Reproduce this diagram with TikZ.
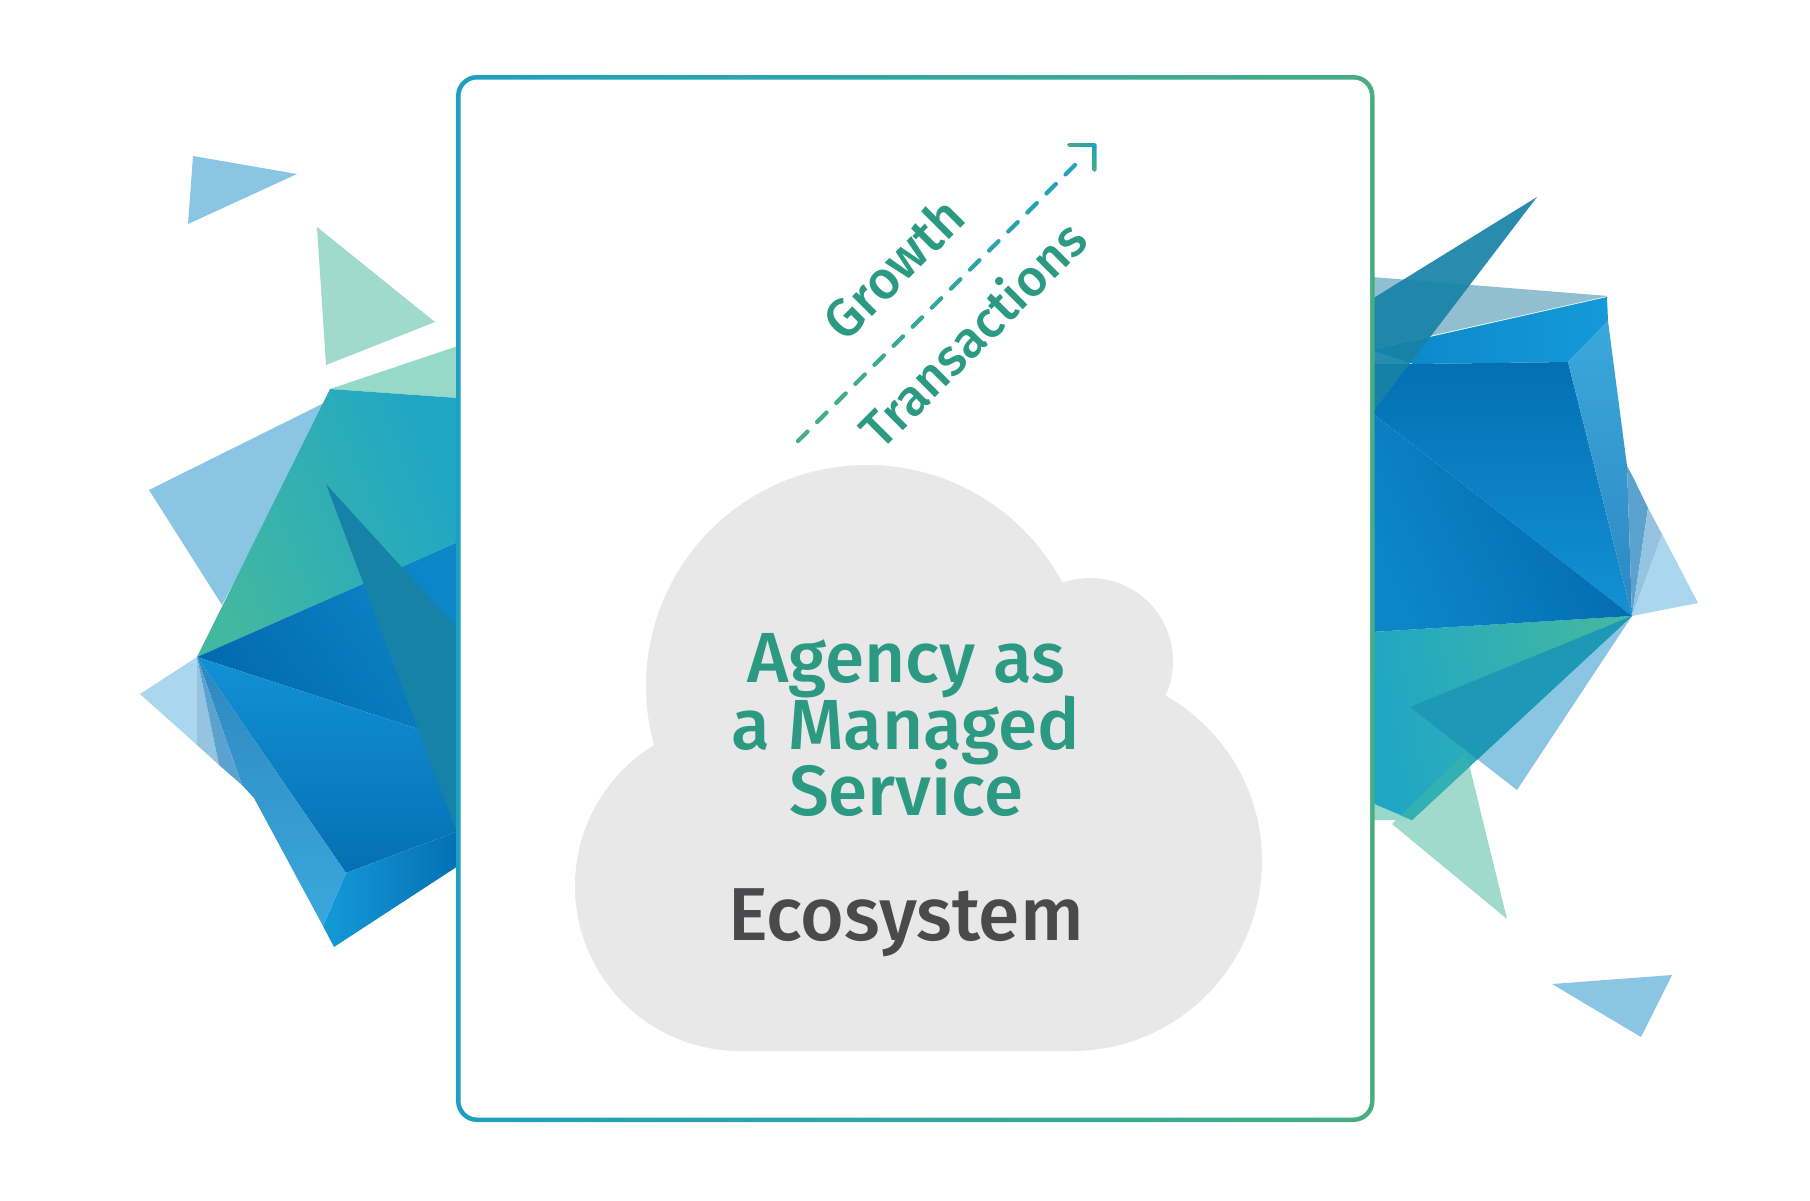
\documentclass[tikz,border=0pt]{standalone}
\usepackage{fontspec}
\setmainfont{Fira Sans Medium}
\usetikzlibrary{calc}
\definecolor{tealA}{HTML}{43B8A0}
\definecolor{tealB}{HTML}{1FA6C5}
\definecolor{frameA}{HTML}{1DA0C0}
\definecolor{frameB}{HTML}{47AD82}
\definecolor{txtgreen}{HTML}{2C9A82}
\definecolor{txtgrey}{HTML}{4A4A4C}
\definecolor{cloudgrey}{HTML}{E8E8E8}
\definecolor{paleblue}{HTML}{8AC6E3}
\definecolor{paleblueb}{HTML}{ABD7EE}
\definecolor{palegreen}{HTML}{A0DACD}
\definecolor{toplight}{HTML}{97D9C8}
\definecolor{deepteal}{HTML}{1782A7}
\definecolor{greyteal}{HTML}{8FBFD0}
\definecolor{blueA}{HTML}{0268AD}
\definecolor{blueB}{HTML}{0C86C7}
\definecolor{blueC}{HTML}{1291D4}
\definecolor{blueD}{HTML}{0470B3}
\definecolor{blueE}{HTML}{149AD8}
\definecolor{blueF}{HTML}{3AA8DC}
\definecolor{blueG}{HTML}{2E88C0}
\newcommand{\headfont}{\fontsize{71}{66.5}\selectfont}
\lineskiplimit=-100pt
\tikzset{
  headline/.style={text=txtgreen,font=\headfont,align=center,inner sep=0pt},
  ecoline/.style={text=txtgrey,font=\fontsize{75}{75}\selectfont,inner sep=0pt},
  slanted/.style={text=txtgreen,font=\fontsize{51}{51}\selectfont,rotate=45,inner sep=0pt},
  dashbit/.style={line width=4.2pt,line cap=round},
}
\begin{document}
\begin{tikzpicture}[x=1pt,y=-1pt]
\useasboundingbox (0,0) rectangle (1810,1200);
% floating triangles, left
\fill[paleblue] (193,156)--(297,174)--(188,224)--cycle;
\fill[palegreen] (317,227)--(435,322)--(326,365)--cycle;
\fill[paleblue] (149,490)--(330,400)--(222,605)--cycle;
% left crystal
\fill[toplight] (330,389)--(458,346)--(458,398)--cycle;
\fill[paleblueb] (140,694)--(197,657)--(197,745)--cycle;
\shade[left color=tealA,right color=tealB,shading angle=112] (330,389)--(458,398)--(458,542)--(197,657)--cycle;
\shade[left color=blueA,right color=blueB,shading angle=125] (197,657)--(458,542)--(458,760)--(415,728)--cycle;
\shade[top color=blueC,bottom color=blueD] (197,657)--(415,728)--(458,760)--(458,831)--(346,873)--cycle;
\shade[left color=blueE,right color=blueD] (346,873)--(458,831)--(458,866)--(334,947)--(323,926)--cycle;
\shade[top color=blueG,bottom color=blueF] (197,657)--(346,873)--(323,926)--(254,798)--(242,785)--cycle;
\fill[color=white!50!blueG] (197,657)--(197,745)--(219,765)--cycle;
\fill[color=white!22!blueG] (197,657)--(219,765)--(242,785)--cycle;
\fill[deepteal] (326,484)--(458,629)--(458,835)--cycle;
% right crystal
\fill[paleblue] (1632,616)--(1517,790)--(1410,707)--cycle;
\fill[palegreen] (1392,824)--(1466,752)--(1507,919)--cycle;
\fill[toplight] (1372,803)--(1412,820)--(1372,820)--cycle;
\shade[left color=tealB,right color=tealA,shading angle=100] (1372,632)--(1632,616)--(1412,820)--(1372,803)--cycle;
\begin{scope}
\clip (1372,632)--(1632,616)--(1412,820)--(1372,803)--cycle;
\fill[color=tealA!55!tealB] (1392,824)--(1466,752)--(1507,919)--cycle;
\fill[color=tealB!92!black] (1632,616)--(1517,790)--(1410,707)--cycle;
\end{scope}
\fill[greyteal] (1372,277)--(1608,296)--(1372,349)--cycle;
\shade[left color=blueB,right color=blueE] (1372,350)--(1607,297)--(1608,321)--(1568,362)--(1413,364)--cycle;
\shade[top color=blueD,bottom color=blueC] (1413,364)--(1568,362)--(1632,616)--(1372,413)--(1372,364)--cycle;
\shade[left color=blueB,middle color=blueA,right color=blueA,shading angle=115] (1372,413)--(1632,616)--(1372,632)--cycle;
\shade[top color=blueF,bottom color=blueG] (1608,321)--(1627,466)--(1632,616)--(1568,362)--cycle;
\fill[paleblueb] (1662,534)--(1698,603)--(1632,616)--cycle;
\fill[color=white!22!blueG] (1632,616)--(1627,466)--(1633,477)--(1648,508)--cycle;
\fill[color=white!50!blueG] (1632,616)--(1648,508)--(1662,534)--cycle;
\fill[color=deepteal,opacity=.92] (1537,197)--(1372,299)--(1372,413)--cycle;
\fill[paleblue] (1552,984)--(1672,975)--(1641,1037)--cycle;
% frame
\shade[left color=frameA,right color=frameB,rounded corners=21pt] (456,75) rectangle (1374.5,1122);
\fill[white,rounded corners=17pt] (460.5,79.5) rectangle (1370,1117.5);
% cloud
\fill[cloudgrey] (867,686) circle[radius=221];
\fill[cloudgrey] (1090,661) circle[radius=83];
\fill[cloudgrey] (1072,861) circle[radius=190];
\fill[cloudgrey] (740,886) circle[radius=165];
\fill[cloudgrey] (665,752)--(1063,592)--(1158,694)--(1072,861)--(1072,1051)--(740,1051)--(740,886)--cycle;
% growth arrow
\coordinate (arrowstart) at (798,441);
\coordinate (arrowend) at (1077,163);
\foreach \i in {0,...,14}{
  \pgfmathsetmacro{\ta}{\i/14.6}
  \pgfmathsetmacro{\tb}{\ta+0.034}
  \pgfmathtruncatemacro{\pc}{100*\ta}
  \draw[dashbit,color=frameA!\pc!frameB] ($(arrowstart)!\ta!(arrowend)$)--($(arrowstart)!\tb!(arrowend)$);
}
\shade[left color=frameB,right color=frameA,rounded corners=1.9pt] (1067,143) rectangle (1096.5,146.8);
\shade[top color=frameA,bottom color=frameB,rounded corners=1.9pt] (1092.7,143) rectangle (1096.5,172);
% labels
\node[slanted,font=\fontsize{53}{53}\selectfont] (growth) at (893,268) {Growth};
\node[slanted] (transactions) at (972,333) {Transactions};
\node[headline] (title) at (906,725) {Agency as\\a Managed\\Service};
\node[ecoline,anchor=base] (eco) at (906,940) {Ecosystem};
\end{tikzpicture}
\end{document}
